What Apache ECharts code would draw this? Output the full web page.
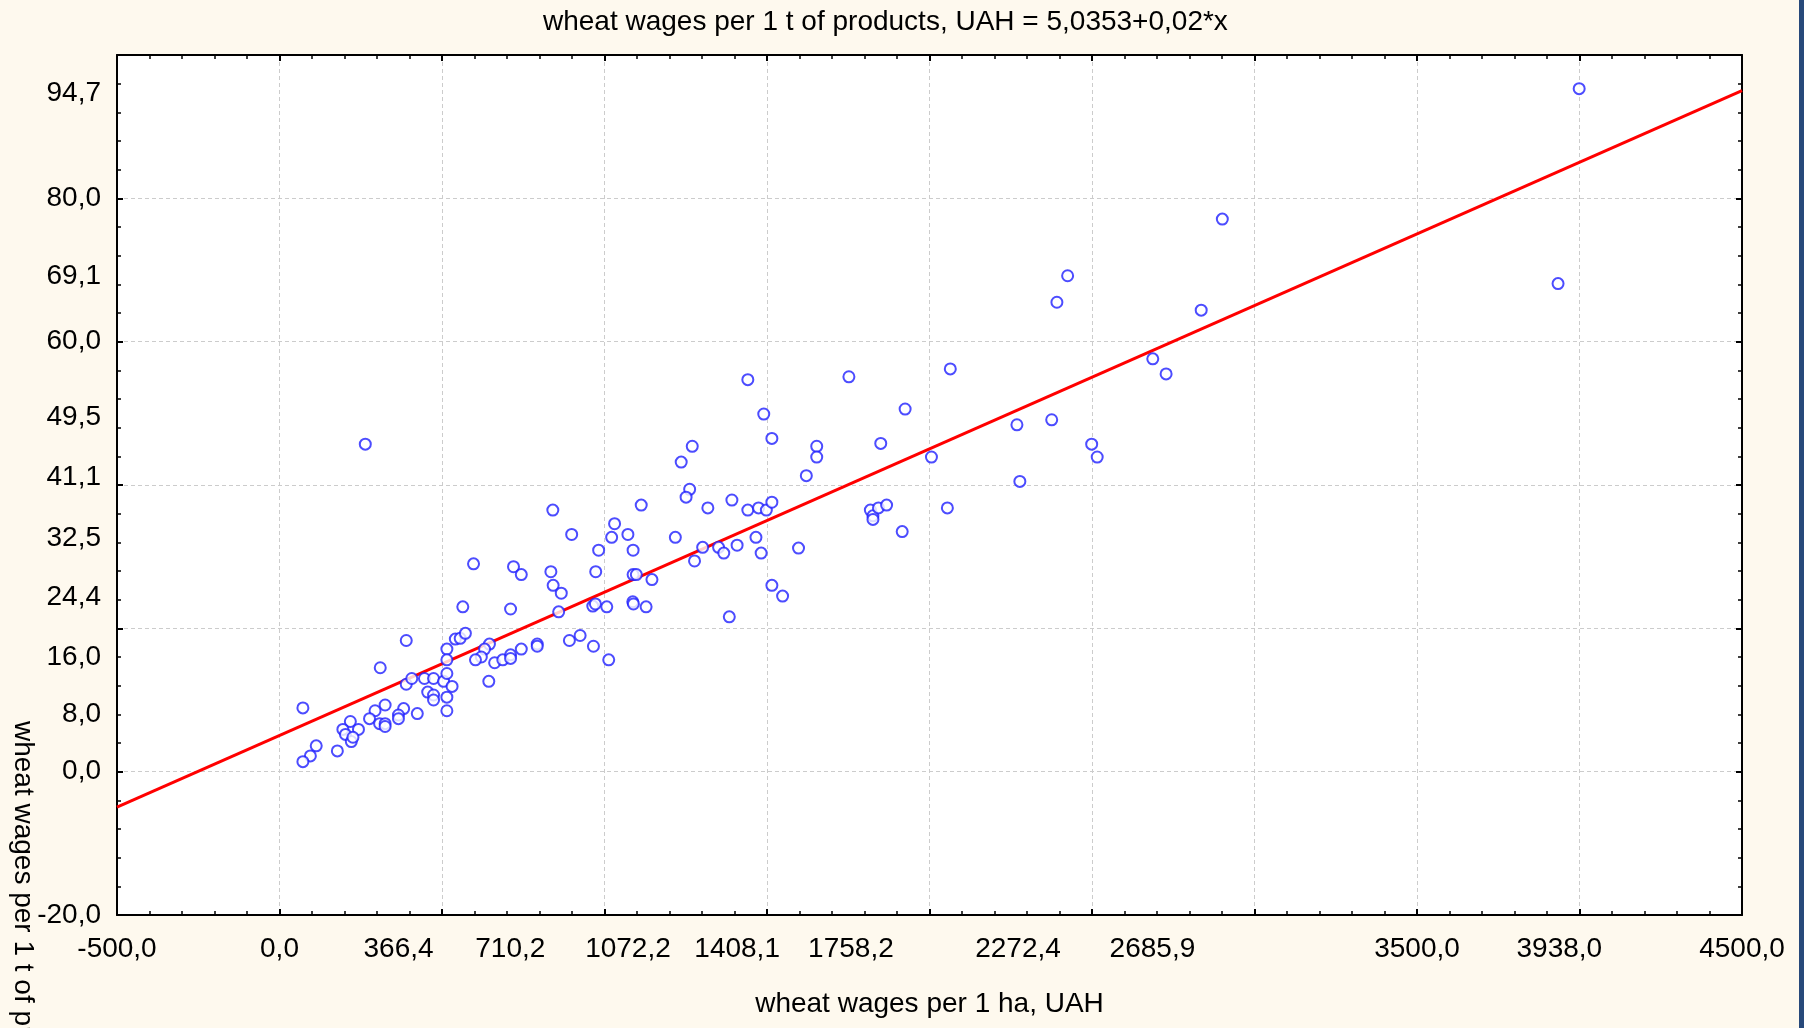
<!DOCTYPE html>
<html><head><meta charset="utf-8">
<script src="https://cdn.jsdelivr.net/npm/echarts@6/dist/echarts.min.js"></script>
<style>html,body{margin:0;padding:0;background:#FEF9EE;}#c{width:1804px;height:1028px;}</style>
</head><body><div id="c"></div>
<script>
const titleText = 'wheat wages per 1 t of products, UAH = 5,0353+0,02*x';
const xName = 'wheat wages per 1 ha, UAH';
const yName = 'wheat wages per 1 t of products, UAH';
const xTickLabels = [-500, 0, 366.4, 710.2, 1072.2, 1408.1, 1758.2, 2272.4, 2685.9, 3500, 3938, 4500];
const yTickLabels = [-20, 0, 8, 16, 24.4, 32.5, 41.1, 49.5, 60, 69.1, 80, 94.7];
const xVals = [564,711,859,964,972,1007,1087,1089,1128,390,541,556,572,515,515,646,631,621,603,
  662,687,711,711,744,793,793,892,925,966,1013,644,310,72,390,407,446,474,505,515,
  531,456,474,474,515,515,325,294,382,366,366,424,277,308,325,325,218,195,243,203,
  221,226,113,178,95,72,
  1262,1251,1113,1392,1318,1441,1474,1498,1515,841,1031,1022,1072,899,1218,982,1088,1466,1302,1351,
  1367,1408,1482,1597,1277,597,720,744,835,973,1088,1098,1146,842,867,1515,1548,1384,
  1441,1752,2064,1490,1925,1515,1270,1236,1653,1653,1850,2006,1621,1818,1826,1826,1843,1868,2055,1916,
  2687,2728,2269,2376,2499,2516,2278,3999,3934,2901,2425,2392,2836,264];
const yVals = [23.0,22.7,22.3,23.1,23.4,23.0,23.7,23.4,23.0,18.3,18.5,18.6,19.3,17.1,15.6,17.8,17.1,16.0,15.6,
  15.2,15.6,16.3,15.8,17.1,17.8,17.5,18.3,19.0,17.5,15.6,12.6,14.5,8.9,12.2,13.0,13.0,13.0,12.6,13.7,
  11.9,11.1,10.7,10.0,10.4,8.5,9.3,8.5,8.8,7.9,7.4,8.1,7.4,6.7,6.7,6.3,7.0,5.9,5.9,5.2,
  4.2,4.8,3.6,2.9,2.2,1.4,
  39.4,38.3,37.2,37.9,36.8,36.5,36.8,36.5,37.6,36.5,34.6,32.7,33.1,33.1,32.7,30.9,30.9,32.7,31.3,31.3,
  30.5,31.6,30.5,31.2,29.4,29.0,28.6,27.5,27.9,27.9,27.5,27.5,26.8,26.0,24.9,26.0,24.5,21.6,
  54.7,55.1,56.2,49.9,50.6,46.5,45.4,43.2,45.4,43.9,45.8,43.9,41.3,36.5,35.7,35.2,36.8,37.2,36.8,33.5,
  57.6,55.5,48.4,49.1,45.7,43.9,40.5,95.3,68.1,77.1,69.2,65.5,64.4,45.7];
const fitX = [-500, 4500];
const fitY = [-4.9647, 95.0353];

const FONT = "'Liberation Sans', Arial, sans-serif";
const FS = 28;
const fmt = v => Number(v).toFixed(1).replace('.', ',');
const pts = xVals.map((x, i) => [x, yVals[i]]);
const fit = fitX.map((x, i) => [x, fitY[i]]);

const tickCommon = {
  axisLine: {show: true, onZero: false, lineStyle: {color: '#000', width: 2}},
  axisTick: {show: true, inside: true, length: 6, lineStyle: {color: '#000', width: 2}},
  minorTick: {show: true, splitNumber: 5, length: 4, lineStyle: {color: '#000', width: 1.5}}
};
const split = {show: true, lineStyle: {color: '#cccccc', type: [4, 3], width: 1}};

const chart = echarts.init(document.getElementById('c'), null, {renderer: 'canvas'});
chart.setOption({
  backgroundColor: '#FEF9EE',
  animation: false,
  title: {
    text: titleText, left: 538, top: 3,
    textStyle: {fontFamily: FONT, fontSize: FS, fontWeight: 'normal', color: '#000'}
  },
  grid: {left: 117, top: 55, width: 1625, height: 860, show: true, backgroundColor: '#fff', borderWidth: 0},
  xAxis: [
    Object.assign({
      type: 'value', min: -500, max: 4500, interval: 500, position: 'bottom',
      name: xName, nameLocation: 'middle', nameGap: 75,
      nameTextStyle: {fontFamily: FONT, fontSize: FS, color: '#000'},
      axisLabel: {customValues: xTickLabels, formatter: fmt, fontFamily: FONT, fontSize: FS, color: '#000', margin: 20},
      splitLine: split
    }, tickCommon),
    Object.assign({
      type: 'value', min: -500, max: 4500, interval: 500, position: 'top',
      axisLabel: {show: false}, splitLine: {show: false}
    }, tickCommon)
  ],
  yAxis: [
    Object.assign({
      type: 'value', min: -20, max: 100, interval: 20, position: 'left',
      axisLabel: {customValues: yTickLabels, formatter: fmt, fontFamily: FONT, fontSize: FS, color: '#000', margin: 16},
      splitLine: split
    }, tickCommon),
    Object.assign({
      type: 'value', min: -20, max: 100, interval: 20, position: 'right',
      axisLabel: {show: false}, splitLine: {show: false}
    }, tickCommon)
  ],
  graphic: [
    {type: 'rect', right: 0, top: 0, shape: {width: 5, height: 1028}, style: {fill: '#27497A'}},
    {type: 'text', x: 23, y: 721, rotation: -Math.PI / 2,
      style: {text: yName, fontFamily: FONT, fontSize: FS, fill: '#000', align: 'left', verticalAlign: 'middle'}}
  ],
  series: [
    {type: 'line', data: fit, showSymbol: false, symbol: 'none', lineStyle: {color: '#ff0000', width: 3}, z: 2},
    {type: 'scatter', data: pts, symbol: 'emptyCircle', symbolSize: 11,
      itemStyle: {color: '#1f1fff', borderColor: '#1f1fff', borderWidth: 1.4}, z: 3}
  ]
});
</script></body></html>
